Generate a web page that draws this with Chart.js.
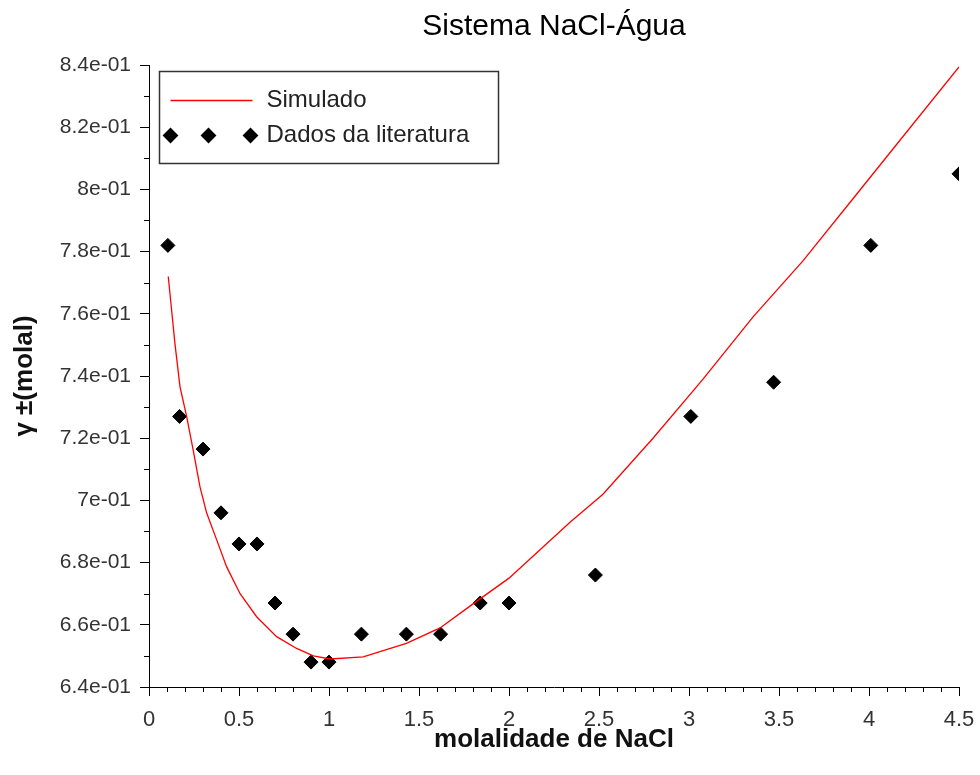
<!DOCTYPE html>
<html>
<head>
<meta charset="utf-8">
<script src="https://cdn.jsdelivr.net/npm/chart.js"></script>
<style>
  html, body { margin: 0; padding: 0; background: #fff; }
  #wrap { width: 980px; height: 775px; }
</style>
</head>
<body>
<div id="wrap"><canvas id="chart" width="980" height="775"></canvas></div>
<script>
// simulated curve
const curveX = [0.107, 0.126, 0.144, 0.172, 0.209, 0.246, 0.283, 0.32, 0.376, 0.431, 0.506, 0.598, 0.709, 0.82, 0.913, 1.006, 1.19, 1.43, 1.617, 1.783, 2.0, 2.339, 2.522, 2.8, 3.078, 3.356, 3.633, 3.911, 4.133, 4.5];
const curveY = [0.772, 0.761, 0.7505, 0.7366, 0.727, 0.716, 0.7044, 0.696, 0.6873, 0.6787, 0.670, 0.6626, 0.6562, 0.6524, 0.650, 0.649, 0.6497, 0.654, 0.659, 0.666, 0.675, 0.693, 0.702, 0.720, 0.739, 0.759, 0.777, 0.797, 0.813, 0.8394];

// literature points
const dataX = [0.105, 0.17, 0.3, 0.4, 0.5, 0.6, 0.7, 0.8, 0.9, 1.0, 1.18, 1.43, 1.62, 1.84, 2.0, 2.48, 3.01, 3.47, 4.01, 4.5];
const dataY = [0.782, 0.727, 0.7165, 0.696, 0.686, 0.686, 0.667, 0.657, 0.648, 0.648, 0.657, 0.657, 0.657, 0.667, 0.667, 0.676, 0.727, 0.738, 0.782, 0.805];

const X_MIN = 0, X_MAX = 4.5, X_STEP = 0.5, X_MINOR = 0.1;
const Y_MIN = 0.64, Y_MAX = 0.84, Y_STEP = 0.02, Y_MINOR = 0.01;

const FONT = "'Liberation Sans', Arial, sans-serif";

function fmtExp(v) {
  const s = Number(v.toPrecision(6)).toExponential();
  return s.replace(/e([+-])(\d)$/, 'e$10$2');
}

const minorTicks = {
  id: 'minorTicks',
  afterDraw(chart) {
    const { ctx, scales: { x, y } } = chart;
    ctx.save();
    ctx.strokeStyle = '#000';
    ctx.lineWidth = 1;
    ctx.beginPath();
    const nx = Math.round((X_MAX - X_MIN) / X_MINOR);
    const per = Math.round(X_STEP / X_MINOR);
    for (let i = 0; i <= nx; i++) {
      if (i % per === 0) continue;
      const px = Math.round(x.getPixelForValue(X_MIN + i * X_MINOR)) + 0.5;
      ctx.moveTo(px, y.bottom);
      ctx.lineTo(px, y.bottom + 5);
    }
    const ny = Math.round((Y_MAX - Y_MIN) / Y_MINOR);
    const perY = Math.round(Y_STEP / Y_MINOR);
    for (let j = 0; j <= ny; j++) {
      if (j % perY === 0) continue;
      const py = Math.round(y.getPixelForValue(Y_MIN + j * Y_MINOR)) + 0.5;
      ctx.moveTo(x.left - 5, py);
      ctx.lineTo(x.left, py);
    }
    ctx.stroke();
    ctx.restore();
  }
};

const boxLegend = {
  id: 'boxLegend',
  afterDatasetsDraw(chart) {
    const { ctx, chartArea } = chart;
    const ds = chart.data.datasets;
    const bx = chartArea.left + 10.5, by = chartArea.top + 6.5;
    ctx.save();
    ctx.fillStyle = '#fff';
    ctx.strokeStyle = '#333';
    ctx.lineWidth = 1.5;
    ctx.fillRect(bx, by, 339, 92);
    ctx.strokeRect(bx, by, 339, 92);

    const r1 = by + 29, r2 = by + 64;
    ctx.strokeStyle = ds[0].borderColor;
    ctx.lineWidth = 1.3;
    ctx.beginPath();
    ctx.moveTo(bx + 11, r1);
    ctx.lineTo(bx + 93, r1);
    ctx.stroke();

    ctx.fillStyle = '#000';
    ctx.strokeStyle = '#000';
    [11, 49, 91].forEach((dx) => {
      Chart.helpers.drawPoint(ctx, { pointStyle: 'rectRot', radius: 7, borderWidth: 1 }, bx + dx, r2);
    });

    ctx.fillStyle = '#222';
    ctx.font = `24px ${FONT}`;
    ctx.textBaseline = 'middle';
    ctx.textAlign = 'left';
    ctx.fillText(ds[0].label, bx + 107, r1);
    ctx.fillText(ds[1].label, bx + 107, r2);
    ctx.restore();
  }
};

new Chart(document.getElementById('chart'), {
  type: 'scatter',
  data: {
    datasets: [
      {
        label: 'Simulado',
        data: curveX.map((v, i) => ({ x: v, y: curveY[i] })),
        showLine: true,
        borderColor: '#ff0000',
        borderWidth: 1.3,
        pointRadius: 0,
        tension: 0,
      },
      {
        label: 'Dados da literatura',
        data: dataX.map((v, i) => ({ x: v, y: dataY[i] })),
        showLine: false,
        pointStyle: 'rectRot',
        pointRadius: 7,
        borderWidth: 1,
        borderColor: '#000',
        backgroundColor: '#000',
        clip: 0,
      },
    ],
  },
  options: {
    responsive: false,
    animation: false,
    layout: { padding: { left: 0, right: 21, top: 0, bottom: 0 } },
    plugins: {
      legend: { display: false },
      tooltip: { enabled: false },
      title: {
        display: true,
        text: 'Sistema NaCl-Água',
        fullSize: false,
        color: '#000',
        font: { family: FONT, size: 30, weight: 'normal', lineHeight: 1.2 },
        padding: { top: 9, bottom: 20 },
      },
    },
    scales: {
      x: {
        type: 'linear',
        min: X_MIN,
        max: X_MAX,
        afterFit: (s) => { s.height = 88; s.paddingLeft = 0; s.paddingRight = 0; },
        border: { display: true, color: '#000', width: 1 },
        grid: { drawOnChartArea: false, drawTicks: true, tickLength: 9, tickColor: '#000' },
        ticks: {
          stepSize: X_STEP,
          padding: 11,
          color: '#333',
          font: { family: FONT, size: 22 },
          maxRotation: 0,
          callback: (v) => String(Number(v.toFixed(1))),
        },
        title: {
          display: true,
          text: 'molalidade de NaCl',
          color: '#111',
          font: { family: FONT, size: 26, weight: 'bold', lineHeight: 1.2 },
          padding: { top: 0, bottom: 20 },
        },
      },
      y: {
        type: 'linear',
        min: Y_MIN,
        max: Y_MAX,
        afterFit: (s) => { s.width = 149; s.paddingTop = 0; s.paddingBottom = 0; },
        border: { display: true, color: '#000', width: 1 },
        grid: { drawOnChartArea: false, drawTicks: true, tickLength: 9, tickColor: '#000' },
        ticks: {
          stepSize: Y_STEP,
          padding: 9,
          color: '#333',
          font: { family: FONT, size: 21 },
          callback: (v) => fmtExp(v),
        },
        title: {
          display: true,
          text: 'γ ±(molal)',
          color: '#111',
          font: { family: FONT, size: 26, weight: 'bold', lineHeight: 1.2 },
          padding: { top: 9, bottom: 0 },
        },
      },
    },
  },
  plugins: [minorTicks, boxLegend],
});
</script>
</body>
</html>
